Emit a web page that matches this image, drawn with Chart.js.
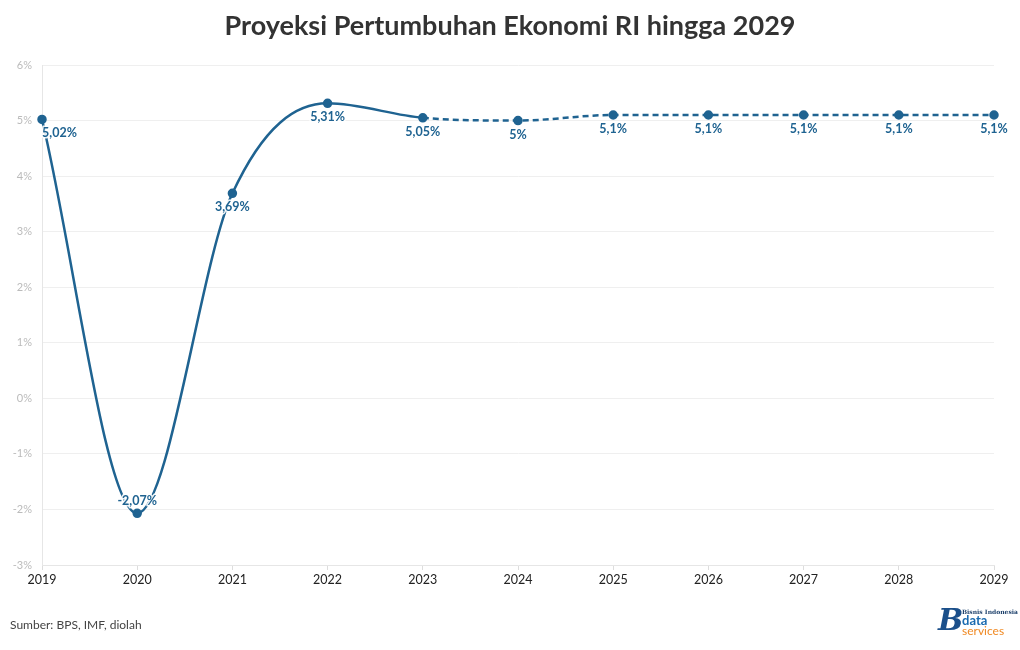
<!DOCTYPE html>
<html>
<head>
<meta charset="utf-8">
<script src="https://cdn.jsdelivr.net/npm/chart.js@4.4.1/dist/chart.umd.min.js"></script>
<style>
    body { margin: 0; background: #fff; font-family: Lato, sans-serif; }
    #wrap { position: relative; width: 1020px; height: 650px; }
    #title { position: absolute; top: 8px; left: 0; width: 1020px; text-align: center; font-size: 27px; font-weight: bold; color: #333; }
    #source { position: absolute; left: 10px; top: 617px; font-size: 12px; color: #444; }
    #logo { position: absolute; left: 938px; top: 606px; width: 80px; height: 34px; }
    #logo .b { position: absolute; left: 0; top: -4px; font-family: "DejaVu Serif", serif; font-weight: bold; font-style: italic; font-size: 30px; color: #1b4f8a; }
    #logo .bi { position: absolute; left: 24px; top: 2px; font-family: "DejaVu Serif", serif; font-size: 6px; font-weight: bold; color: #1b3f6a; white-space: nowrap; }
    #logo .d { position: absolute; left: 24px; top: 8px; font-size: 13px; font-weight: bold; color: #1b6bb0; line-height: 12px; }
    #logo .s { position: absolute; left: 24px; top: 19px; font-size: 12px; color: #f08a24; line-height: 12px; }
</style>
</head>
<body>
<div id="wrap">
    <div id="title">Proyeksi Pertumbuhan Ekonomi RI hingga 2029</div>
    <canvas id="myChart" width="1020" height="650"></canvas>
    <div id="source">Sumber: BPS, IMF, diolah</div>
    <div id="logo"><span class="b">B</span><span class="bi">Bisnis Indonesia</span><span class="d">data</span><span class="s">services</span></div>
</div>
<script>
const years = ['2019', '2020', '2021', '2022', '2023', '2024', '2025', '2026', '2027', '2028', '2029'];
const growth = [5.02, -2.07, 3.69, 5.31, 5.05, 5.0, 5.1, 5.1, 5.1, 5.1, 5.1];
const valueLabels = ['5,02%', '-2,07%', '3,69%', '5,31%', '5,05%', '5%', '5,1%', '5,1%', '5,1%', '5,1%', '5,1%'];
const lastActual = 4; // index of 2023, projection after this

const lineColor = '#1f6391';

// draws the value labels under (or above) each point
const labelPlugin = {
    id: 'valueLabels',
    afterDatasetsDraw: function (chart) {
        const ctx = chart.ctx;
        const meta = chart.getDatasetMeta(0);
        ctx.save();
        ctx.font = 'bold 12.5px Lato, sans-serif';
        ctx.textBaseline = 'middle';
        ctx.lineJoin = 'round';
        for (let i = 0; i < meta.data.length; i++) {
            const pt = meta.data[i];
            let x = pt.x;
            let y = pt.y + 14;
            ctx.textAlign = i === 0 ? 'left' : 'center';
            if (growth[i] < 0) {
                y = pt.y - 12;
            }
            ctx.strokeStyle = 'rgba(255,255,255,0.9)';
            ctx.lineWidth = 3;
            ctx.strokeText(valueLabels[i], x, y);
            ctx.fillStyle = lineColor;
            ctx.fillText(valueLabels[i], x, y);
        }
        ctx.restore();
    }
};

const ctx = document.querySelector('#myChart').getContext('2d');
const myChart = new Chart(ctx, {
    type: 'line',
    data: {
        labels: years,
        datasets: [{
            data: growth,
            borderColor: lineColor,
            backgroundColor: lineColor,
            borderWidth: 2.5,
            cubicInterpolationMode: 'monotone',
            pointRadius: 3.5,
            pointHoverRadius: 3.5,
            segment: {
                borderDash: function (c) { return c.p0DataIndex >= lastActual ? [6, 4] : undefined; }
            }
        }]
    },
    options: {
        responsive: false,
        animation: false,
        layout: { padding: { top: 65, right: 26, bottom: 60, left: 0 } },
        plugins: {
            legend: { display: false },
            tooltip: { enabled: false }
        },
        scales: {
            x: {
                offset: false,
                grid: { display: true, drawOnChartArea: false, color: '#ddd', tickLength: 5 },
                border: { color: '#e6e6e6' },
                ticks: { color: '#222', font: { size: 12.5, family: 'Lato' }, padding: 2, maxRotation: 0 },
                afterFit: function (scale) { scale.height = 25; }
            },
            y: {
                min: -3,
                max: 6,
                grid: { color: '#efefef', drawTicks: false },
                border: { color: '#e6e6e6' },
                ticks: {
                    stepSize: 1,
                    color: '#bbb',
                    font: { size: 11, family: 'Lato' },
                    padding: 10,
                    callback: function (v) { return v + '%'; }
                },
                afterFit: function (scale) { scale.width = 42; }
            }
        }
    },
    plugins: [labelPlugin]
});
</script>
</body>
</html>
